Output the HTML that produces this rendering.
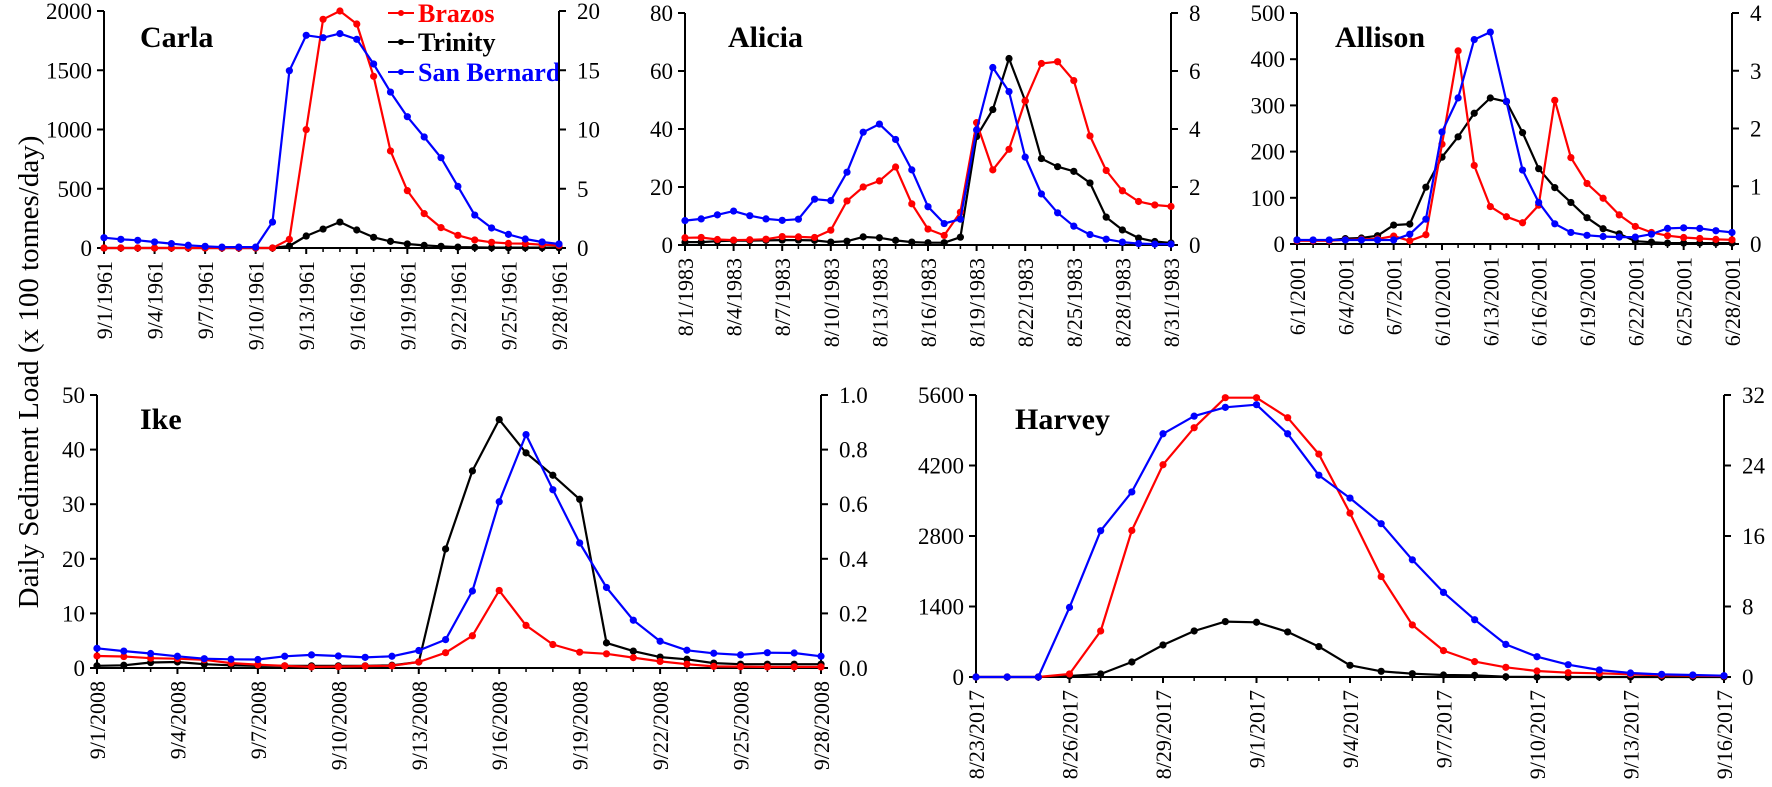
<!DOCTYPE html>
<html><head><meta charset="utf-8">
<style>
html,body{margin:0;padding:0;background:#fff;}
svg{display:block;font-family:"Liberation Serif",serif;}
svg text{font-family:"Liberation Serif","Times New Roman",serif;}
</style></head>
<body>
<svg id="chart" width="1772" height="787" viewBox="0 0 1772 787" xmlns="http://www.w3.org/2000/svg" font-family="Liberation Serif, serif">
<text transform="translate(38,372) rotate(-90)" text-anchor="middle" font-size="29" fill="#000">Daily Sediment Load (x 100 tonnes/day)</text>
<g>
 <g><line x1="388" y1="13" x2="414" y2="13" stroke="#ff0000" stroke-width="2"/><circle cx="401" cy="13" r="3" fill="#ff0000"/><text x="418" y="22" font-size="26" font-weight="bold" fill="#ff0000">Brazos</text></g>
 <g><line x1="388" y1="42" x2="414" y2="42" stroke="#000" stroke-width="2"/><circle cx="401" cy="42" r="3" fill="#000"/><text x="418" y="51" font-size="26" font-weight="bold" fill="#000">Trinity</text></g>
 <g><line x1="388" y1="72" x2="414" y2="72" stroke="#0000ff" stroke-width="2"/><circle cx="401" cy="72" r="3" fill="#0000ff"/><text x="418" y="81" font-size="26" font-weight="bold" fill="#0000ff">San Bernard</text></g>
</g>
</svg>
<script>
// ---- Carla (9/1/1961 - 9/28/1961) ----
const carlaBrazos=[0,0,0,0,0,0,0,0,0,0,0,73,999,1930,2000,1890,1449,819,484,290,172,107,68,48,39,37,28,22];
const carlaTrinity=[0,0,0,0,0,0,0,0,0,0,0,17,101,160,219,152,90,56,34,22,14,8,5,3,3,3,3,3];
const carlaSanBernard=[0.87,0.73,0.65,0.51,0.37,0.23,0.14,0.08,0.08,0.08,2.19,14.96,17.95,17.75,18.09,17.61,15.53,13.16,11.08,9.37,7.62,5.2,2.78,1.69,1.15,0.76,0.51,0.34];
const carlaTicks=["9/1/1961","9/4/1961","9/7/1961","9/10/1961","9/13/1961","9/16/1961","9/19/1961","9/22/1961","9/25/1961","9/28/1961"];
const carlaLeftTicks=[0,500,1000,1500,2000];
const carlaRightTicks=[0,5,10,15,20];
// ---- Alicia (8/1/1983 - 8/31/1983) ----
const aliciaBrazos=[2.5,2.6,1.9,1.7,1.8,2.0,2.9,2.8,2.6,5.1,15.2,20.0,22.1,26.9,14.2,5.5,3.3,11.3,42.2,25.9,33.0,49.7,62.6,63.2,56.7,37.6,25.7,18.7,15.0,13.8,13.3];
const aliciaTrinity=[1.0,1.0,1.3,1.5,1.5,1.6,1.7,1.7,1.6,1.0,1.3,2.8,2.5,1.6,1.0,0.8,0.8,2.7,37.4,46.7,64.3,49.7,29.8,27.0,25.4,21.4,9.6,5.2,2.4,1.2,0.7];
const aliciaSanBernard=[0.84,0.90,1.04,1.17,1.01,0.90,0.85,0.89,1.58,1.53,2.51,3.89,4.17,3.64,2.59,1.32,0.74,0.89,3.97,6.12,5.29,3.03,1.76,1.11,0.65,0.36,0.20,0.10,0.05,0.03,0.03];
const aliciaTicks=["8/1/1983","8/4/1983","8/7/1983","8/10/1983","8/13/1983","8/16/1983","8/19/1983","8/22/1983","8/25/1983","8/28/1983","8/31/1983"];
const aliciaLeftTicks=[0,20,40,60,80];
const aliciaRightTicks=[0,2,4,6,8];
// ---- Allison (6/1/2001 - 6/28/2001) ----
const allisonBrazos=[7,7,7,9,10,11,17,7,20,216,418,170,81,59,46,84,311,187,131,99,63,38,25,18,14,12,10,9];
const allisonTrinity=[8.7,8,8,11.6,13,18,41,43,123,188,232,283,316,308,241,163,122,90,57,33,22,6,4,2,2,2,2,2];
const allisonSanBernard=[0.07,0.07,0.07,0.07,0.07,0.07,0.07,0.17,0.43,1.94,2.53,3.54,3.67,2.47,1.28,0.72,0.35,0.20,0.15,0.13,0.12,0.12,0.17,0.27,0.28,0.27,0.23,0.20];
const allisonTicks=["6/1/2001","6/4/2001","6/7/2001","6/10/2001","6/13/2001","6/16/2001","6/19/2001","6/22/2001","6/25/2001","6/28/2001"];
const allisonLeftTicks=[0,100,200,300,400,500];
const allisonRightTicks=[0,1,2,3,4];
// ---- Ike (9/1/2008 - 9/28/2008) ----
const ikeBrazos=[2.2,2.1,1.8,1.7,1.5,0.9,0.6,0.4,0.2,0.25,0.35,0.4,1.1,2.8,5.9,14.2,7.8,4.3,2.9,2.6,1.9,1.2,0.7,0.3,0.25,0.2,0.2,0.2];
const ikeTrinity=[0.4,0.5,1.0,1.1,0.7,0.5,0.4,0.4,0.4,0.4,0.4,0.5,1.1,21.8,36.1,45.5,39.4,35.3,30.9,4.6,3.1,2.0,1.6,0.9,0.7,0.7,0.7,0.7];
const ikeSanBernard=[0.072,0.062,0.053,0.043,0.034,0.032,0.031,0.043,0.048,0.044,0.039,0.043,0.064,0.104,0.282,0.609,0.855,0.653,0.458,0.295,0.175,0.098,0.065,0.054,0.048,0.056,0.055,0.043];
const ikeTicks=["9/1/2008","9/4/2008","9/7/2008","9/10/2008","9/13/2008","9/16/2008","9/19/2008","9/22/2008","9/25/2008","9/28/2008"];
const ikeLeftTicks=[0,10,20,30,40,50];
const ikeRightTicks=["0.0","0.2","0.4","0.6","0.8","1.0"];
// ---- Harvey (8/23/2017 - 9/16/2017) ----
const harveyBrazos=[0,0,0,60,914,2909,4215,4950,5547,5547,5149,4427,3254,1995,1034,524,305,192,119,86,73,53,33,27,20];
const harveyTrinity=[0,0,0,20,60,298,636,914,1100,1087,895,603,232,113,66,40,33,5,0,0,0,0,0,0,0];
const harveySanBernard=[0,0,0,7.9,16.6,21.0,27.6,29.6,30.6,30.9,27.6,22.9,20.3,17.4,13.3,9.6,6.5,3.7,2.3,1.4,0.8,0.45,0.3,0.23,0.15];
const harveyTicks=["8/23/2017","8/26/2017","8/29/2017","9/1/2017","9/4/2017","9/7/2017","9/10/2017","9/13/2017","9/16/2017"];
const harveyLeftTicks=[0,1400,2800,4200,5600];
const harveyRightTicks=[0,8,16,24,32];

const NS="http://www.w3.org/2000/svg";
const svg=document.getElementById('chart');
function mk(tag,attrs,parent){const e=document.createElementNS(NS,tag);for(const k in attrs)e.setAttribute(k,attrs[k]);(parent||svg).appendChild(e);return e;}

function panel(cfg){
  const g=mk('g',{});
  
  
  const n=cfg.red.length;
  const lMax=+cfg.lt[cfg.lt.length-1], rMax=+cfg.rt[cfg.rt.length-1];
  const X=i=>cfg.x0+(cfg.x1-cfg.x0)*i/(n-1);
  const YL=v=>cfg.yb-(cfg.yb-cfg.yt)*v/lMax;
  const YR=v=>cfg.yb-(cfg.yb-cfg.yt)*v/rMax;
  const ax=mk('path',{d:`M${cfg.x0},${cfg.yt}V${cfg.yb}H${cfg.x1}V${cfg.yt}`,fill:'none',stroke:'#000','stroke-width':2},g);
  
  
  cfg.lt.forEach(t=>{const y=YL(+t);
    mk('line',{x1:cfg.x0-7,x2:cfg.x0,y1:y,y2:y,stroke:'#000','stroke-width':2},g);
    const tx=mk('text',{x:cfg.x0-12,y:y+8,'text-anchor':'end','font-size':23},g);tx.textContent=t;
    
    });
  cfg.rt.forEach(t=>{const y=YR(+t);
    mk('line',{x1:cfg.x1,x2:cfg.x1+7,y1:y,y2:y,stroke:'#000','stroke-width':2},g);
    const tx=mk('text',{x:cfg.x1+18,y:y+8,'font-size':23},g);tx.textContent=t;
    
    });
  cfg.xt.forEach((t,k)=>{const x=X(k*3);
    mk('line',{x1:x,x2:x,y1:cfg.yb,y2:cfg.yb+6,stroke:'#000','stroke-width':2},g);
    const tx=mk('text',{transform:`translate(${x+8},${cfg.yb+13}) rotate(-90)`,'text-anchor':'end','font-size':22},g);tx.textContent=t;
    
    });
  for(let i=0;i<n;i++){if(i%3)mk('line',{x1:X(i),x2:X(i),y1:cfg.yb,y2:cfg.yb+4,stroke:'#000','stroke-width':1.5},g);}
  const series=[[cfg.black,'#000',YL,'trinity'],[cfg.red,'#ff0000',YL,'brazos'],[cfg.blue,'#0000ff',YR,'san-bernard']];
  series.forEach(([d,c,Y,nm])=>{
    const sg=mk('g',{},g);
    
    
    mk('polyline',{points:d.map((v,i)=>X(i).toFixed(1)+','+Y(v).toFixed(1)).join(' '),fill:'none',stroke:c,'stroke-width':2.2,'stroke-linejoin':'round'},sg);
    d.forEach((v,i)=>{const p=mk('circle',{cx:X(i),cy:Y(v),r:3.6,fill:c},sg);
      
      });
  });
  const ti=mk('text',{x:cfg.tx,y:cfg.ty,'font-size':30,'font-weight':'bold'},g);ti.textContent=cfg.title;
  
  
}
panel({name:'carla',title:'Carla',tx:140,ty:47,x0:104,x1:559,yt:11,yb:248,red:carlaBrazos,black:carlaTrinity,blue:carlaSanBernard,xt:carlaTicks,lt:carlaLeftTicks,rt:carlaRightTicks});
panel({name:'alicia',title:'Alicia',tx:728,ty:47,x0:685,x1:1171,yt:13,yb:245,red:aliciaBrazos,black:aliciaTrinity,blue:aliciaSanBernard,xt:aliciaTicks,lt:aliciaLeftTicks,rt:aliciaRightTicks});
panel({name:'allison',title:'Allison',tx:1335,ty:47,x0:1297,x1:1732,yt:13,yb:244,red:allisonBrazos,black:allisonTrinity,blue:allisonSanBernard,xt:allisonTicks,lt:allisonLeftTicks,rt:allisonRightTicks});
panel({name:'ike',title:'Ike',tx:140,ty:429,x0:97,x1:821,yt:395,yb:668,red:ikeBrazos,black:ikeTrinity,blue:ikeSanBernard,xt:ikeTicks,lt:ikeLeftTicks,rt:ikeRightTicks});
panel({name:'harvey',title:'Harvey',tx:1015,ty:429,x0:976,x1:1724,yt:395,yb:677,red:harveyBrazos,black:harveyTrinity,blue:harveySanBernard,xt:harveyTicks,lt:harveyLeftTicks,rt:harveyRightTicks});
</script>
</body></html>
